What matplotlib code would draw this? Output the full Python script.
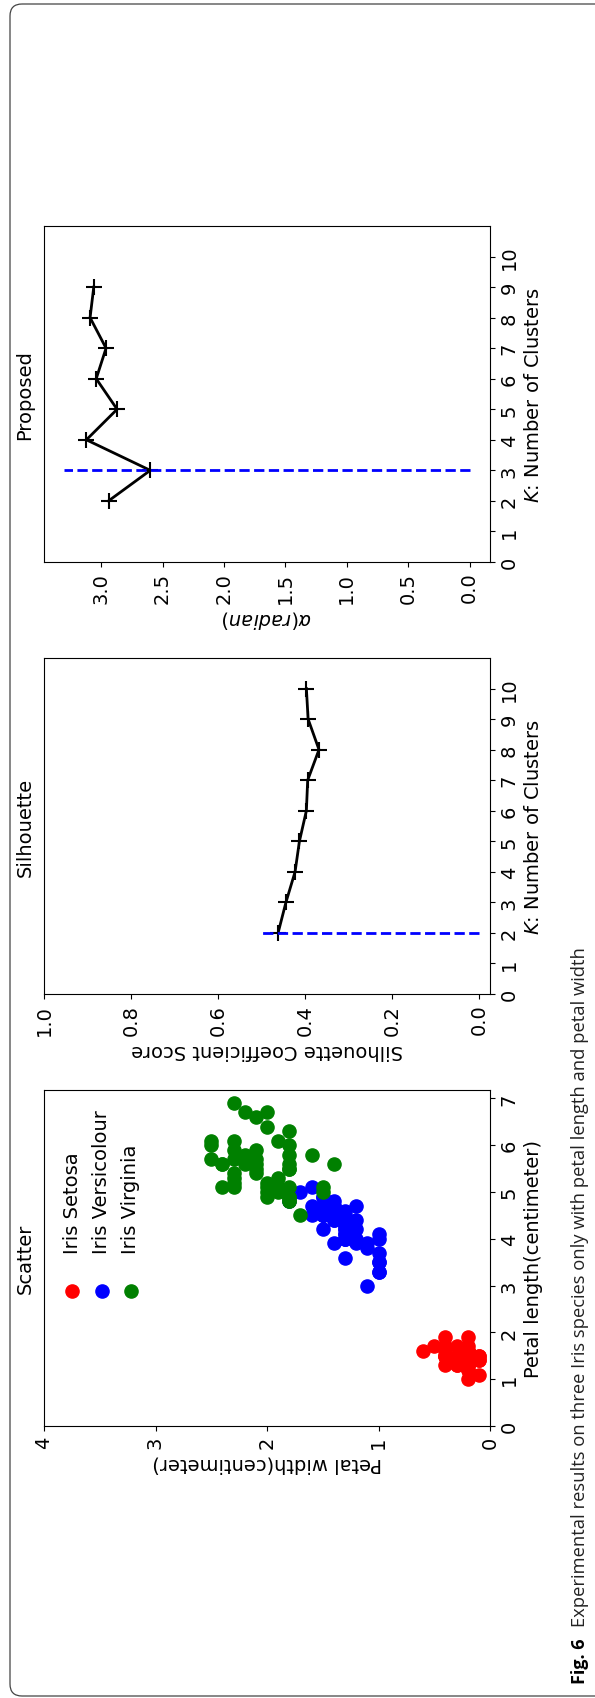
import numpy as np
import matplotlib
matplotlib.use('Agg')
import matplotlib.pyplot as plt
from matplotlib.patches import FancyBboxPatch

# petal measurements of the iris data set (cm)
setosa_length = [1.4, 1.4, 1.3, 1.5, 1.4, 1.7, 1.4, 1.5, 1.4, 1.5, 1.5, 1.6, 1.4, 1.1, 1.2, 1.5, 1.3,
                 1.4, 1.7, 1.5, 1.7, 1.5, 1.0, 1.7, 1.9, 1.6, 1.6, 1.5, 1.4, 1.6, 1.6, 1.5, 1.5, 1.4,
                 1.5, 1.2, 1.3, 1.4, 1.3, 1.5, 1.3, 1.3, 1.3, 1.6, 1.9, 1.4, 1.6, 1.4, 1.5, 1.4]
setosa_width = [0.2, 0.2, 0.2, 0.2, 0.2, 0.4, 0.3, 0.2, 0.2, 0.1, 0.2, 0.2, 0.1, 0.1, 0.2, 0.4, 0.4,
                0.3, 0.3, 0.3, 0.2, 0.4, 0.2, 0.5, 0.2, 0.2, 0.4, 0.2, 0.2, 0.2, 0.2, 0.4, 0.1, 0.2,
                0.2, 0.2, 0.2, 0.1, 0.2, 0.2, 0.3, 0.3, 0.2, 0.6, 0.4, 0.3, 0.2, 0.2, 0.2, 0.2]
versicolour_length = [4.7, 4.5, 4.9, 4.0, 4.6, 4.5, 4.7, 3.3, 4.6, 3.9, 3.5, 4.2, 4.0, 4.7, 3.6, 4.4, 4.5,
                      4.1, 4.5, 3.9, 4.8, 4.0, 4.9, 4.7, 4.3, 4.4, 4.8, 5.0, 4.5, 3.5, 3.8, 3.7, 3.9, 5.1,
                      4.5, 4.5, 4.7, 4.4, 4.1, 4.0, 4.4, 4.6, 4.0, 3.3, 4.2, 4.2, 4.2, 4.3, 3.0, 4.1]
versicolour_width = [1.4, 1.5, 1.5, 1.3, 1.5, 1.3, 1.6, 1.0, 1.3, 1.4, 1.0, 1.5, 1.0, 1.4, 1.3, 1.4, 1.5,
                     1.0, 1.5, 1.1, 1.8, 1.3, 1.5, 1.2, 1.3, 1.4, 1.4, 1.7, 1.5, 1.0, 1.1, 1.0, 1.2, 1.6,
                     1.5, 1.6, 1.5, 1.3, 1.3, 1.3, 1.2, 1.4, 1.2, 1.0, 1.3, 1.2, 1.3, 1.3, 1.1, 1.3]
virginia_length = [6.0, 5.1, 5.9, 5.6, 5.8, 6.6, 4.5, 6.3, 5.8, 6.1, 5.1, 5.3, 5.5, 5.0, 5.1, 5.3, 5.5,
                   6.7, 6.9, 5.0, 5.7, 4.9, 6.7, 4.9, 5.7, 6.0, 4.8, 4.9, 5.6, 5.8, 6.1, 6.4, 5.6, 5.1,
                   5.6, 6.1, 5.6, 5.5, 4.8, 5.4, 5.6, 5.1, 5.1, 5.9, 5.7, 5.2, 5.0, 5.2, 5.4, 5.1]
virginia_width = [2.5, 1.9, 2.1, 1.8, 2.2, 2.1, 1.7, 1.8, 1.8, 2.5, 2.0, 1.9, 2.1, 2.0, 2.4, 2.3, 1.8,
                  2.2, 2.3, 1.5, 2.3, 2.0, 2.0, 1.8, 2.1, 1.8, 1.8, 1.8, 2.1, 1.6, 1.9, 2.0, 2.2, 1.5,
                  1.4, 2.3, 2.4, 1.8, 1.8, 2.1, 2.4, 2.3, 1.9, 2.3, 2.5, 2.3, 1.9, 2.0, 2.3, 1.8]

species_names = ['Iris Setosa', 'Iris Versicolour', 'Iris Virginia']
species_colors = ['red', 'blue', 'green']

k_silhouette = [2, 3, 4, 5, 6, 7, 8, 9, 10]
silhouette_scores = [0.462, 0.444, 0.423, 0.413, 0.397, 0.394, 0.368, 0.393, 0.397]
best_k_silhouette = 2

k_proposed = [2, 3, 4, 5, 6, 7, 8, 9]
alpha_values = [2.94, 2.60, 3.12, 2.87, 3.04, 2.96, 3.09, 3.06]
best_k_proposed = 3
alpha_line_top = 3.3

caption_bold = 'Fig. 6'
caption_text = 'Experimental results on three Iris species only with petal length and petal width'

W, H = 595, 1699
FS = 14
plt.rcParams['font.size'] = FS

fig = plt.figure(figsize=(W / 100, H / 100), dpi=100)

# page frame + caption (pixel coordinates)
page = fig.add_axes([0, 0, 1, 1])
page.set_xlim(0, W)
page.set_ylim(H, 0)
page.axis('off')
page.add_patch(FancyBboxPatch((10, 5), 620, 1692, boxstyle='round,pad=0,rounding_size=12',
                              fc='none', ec='#444444', lw=0.9))
t1 = page.text(589, 1684, caption_bold, rotation=90, ha='right', va='bottom',
               family='Open Sans', fontweight='bold', fontsize=13)
page.annotate(caption_text, xy=(1, 1), xycoords=t1, xytext=(0, 8), textcoords='offset points',
              rotation=90, ha='right', va='bottom', family='Open Sans', fontsize=13.2,
              color='#222222')


def rotated_panel(top_px, title, value_label, k_label):
    # the whole figure is turned a quarter turn: values run right-to-left, K runs upward
    ax = fig.add_axes([44 / W, 1 - (top_px + 336) / H, 446 / W, 336 / H])
    ax.yaxis.tick_right()
    ax.yaxis.set_label_position('right')
    ax.annotate(title, xy=(0, 0.5), xycoords='axes fraction', xytext=(-7, 0),
                textcoords='offset points', rotation=90, ha='right', va='center', fontsize=FS)
    ax.set_xlabel(value_label, rotation=180, fontsize=FS)
    ax.set_ylabel(k_label, rotation=90, fontsize=FS)
    return ax


def finish_ticks(ax, xticks, xfmt, yticks):
    ax.set_xticks(xticks, [xfmt.format(v) for v in xticks], rotation=90)
    ax.set_yticks(yticks, [str(v) for v in yticks], rotation=90, va='center')


# Proposed
ax = rotated_panel(227, 'Proposed', r'$\alpha (radian)$', r'$K$: Number of Clusters')
ax.plot(alpha_values, k_proposed, color='black', lw=2, marker='+', ms=11, mew=1.5)
ax.hlines(best_k_proposed, 0, alpha_line_top, colors='blue', linestyles='--', lw=2)
ax.set_xlim(3.465, -0.165)
ax.set_ylim(0, 11)
finish_ticks(ax, np.arange(0, 3.01, 0.5), '{:.1f}', list(range(0, 11)))

# Silhouette
ax = rotated_panel(659, 'Silhouette', 'Silhouette Coefficient Score', r'$K$: Number of Clusters')
ax.plot(silhouette_scores, k_silhouette, color='black', lw=2, marker='+', ms=11, mew=1.5)
ax.hlines(best_k_silhouette, 0, 0.5, colors='blue', linestyles='--', lw=2)
ax.set_xlim(1.0, -0.025)
ax.set_ylim(0, 11)
finish_ticks(ax, np.arange(0, 1.01, 0.2), '{:.1f}', list(range(0, 11)))

# Scatter
ax = rotated_panel(1091, 'Scatter', 'Petal width(centimeter)', 'Petal length(centimeter)')
groups = [(setosa_width, setosa_length), (versicolour_width, versicolour_length),
          (virginia_width, virginia_length)]
for (w, l), col in zip(groups, species_colors):
    ax.scatter(w, l, s=90, c=col)
for i, (name, col) in enumerate(zip(species_names, species_colors)):
    xf = 0.063 + i * 0.066
    ax.scatter([xf], [0.402], s=90, c=col, transform=ax.transAxes, clip_on=False)
    ax.text(xf, 0.515, name, transform=ax.transAxes, rotation=90, ha='center', va='bottom',
            fontsize=FS)
ax.set_xlim(4, 0)
ax.set_ylim(0, 7.18)
finish_ticks(ax, list(range(0, 5)), '{}', list(range(0, 8)))

fig.savefig('out.png', dpi=100)
